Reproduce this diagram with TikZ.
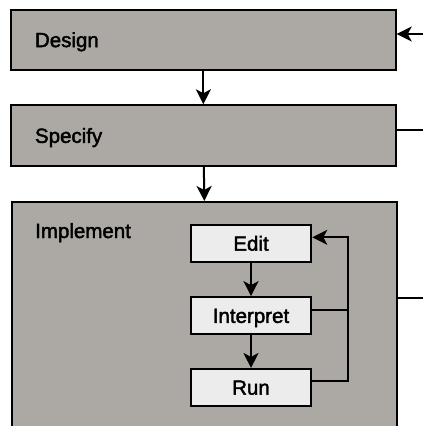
\documentclass[tikz,border=0pt]{standalone}
\usepackage{fontspec}
\setmainfont[FakeBold=2]{Liberation Sans}
\usetikzlibrary{arrows.meta}
\definecolor{phasegray}{HTML}{ACA9A4}
\definecolor{stepgray}{HTML}{ECECEC}
\begin{document}
\begin{tikzpicture}[x=1pt,y=-1pt,
  every node/.style={font=\fontsize{20.5}{24}\selectfont, text height=14.7pt, text depth=0pt},
  phase/.style={draw=black, line width=2pt, fill=phasegray, rectangle},
  phasebar/.style={phase, text width=336.7pt, inner xsep=24pt, inner ysep=0pt,
    minimum height=60.5pt, align=left},
  stepbox/.style={draw=black, line width=2pt, fill=stepgray, rectangle,
    minimum width=120.6pt, minimum height=36.7pt, inner sep=0pt},
  flow/.style={line width=2pt, -{Stealth[length=15pt,width=15pt,inset=4pt]}},
  link/.style={line width=2pt}]
\useasboundingbox (0,0) rectangle (423,426);
\clip (0,0) rectangle (423,426);

% the three phases
\node[phasebar] (design)  at (203.35,39.75)  {Design};
\node[phasebar] (specify) at (203.35,135.5)  {Specify};
\node[phase, minimum width=384.7pt, minimum height=260pt, anchor=north west, inner sep=0pt]
  (impl) at (11,201) {};
\node[anchor=base west, inner sep=0pt] (impltext) at (35,238) {Implement};

% edit / interpret / run cycle inside the implementation phase
\node[stepbox] (edit)   at (251,243.3) {Edit};
\node[stepbox] (interp) at (251,315.5) {Interpret};
\node[stepbox] (run)    at (251,387.3) {Run};

% main flow
\draw[flow] (design) -- (specify);
\draw[flow] (specify) -- (impl.north);
\draw[flow] (edit) -- (interp);
\draw[flow] (interp) -- (run);

% feedback paths back to editing
\draw[flow] ([yshift=6pt]run.east) -- ++(35.5,0) |- ([yshift=6pt]edit.east);
\draw[link] ([yshift=6pt]interp.east) -- ++(35.5,0);

% connections leaving the right-hand side
\coordinate (inD)  at (423,34);
\coordinate (outS) at (423,130);
\coordinate (outI) at (423,297.7);
\draw[flow] (inD) -- (design.east |- inD);
\draw[link] (specify.east |- outS) -- (outS);
\draw[link] (impl.east |- outI) -- (outI);
\end{tikzpicture}
\end{document}
